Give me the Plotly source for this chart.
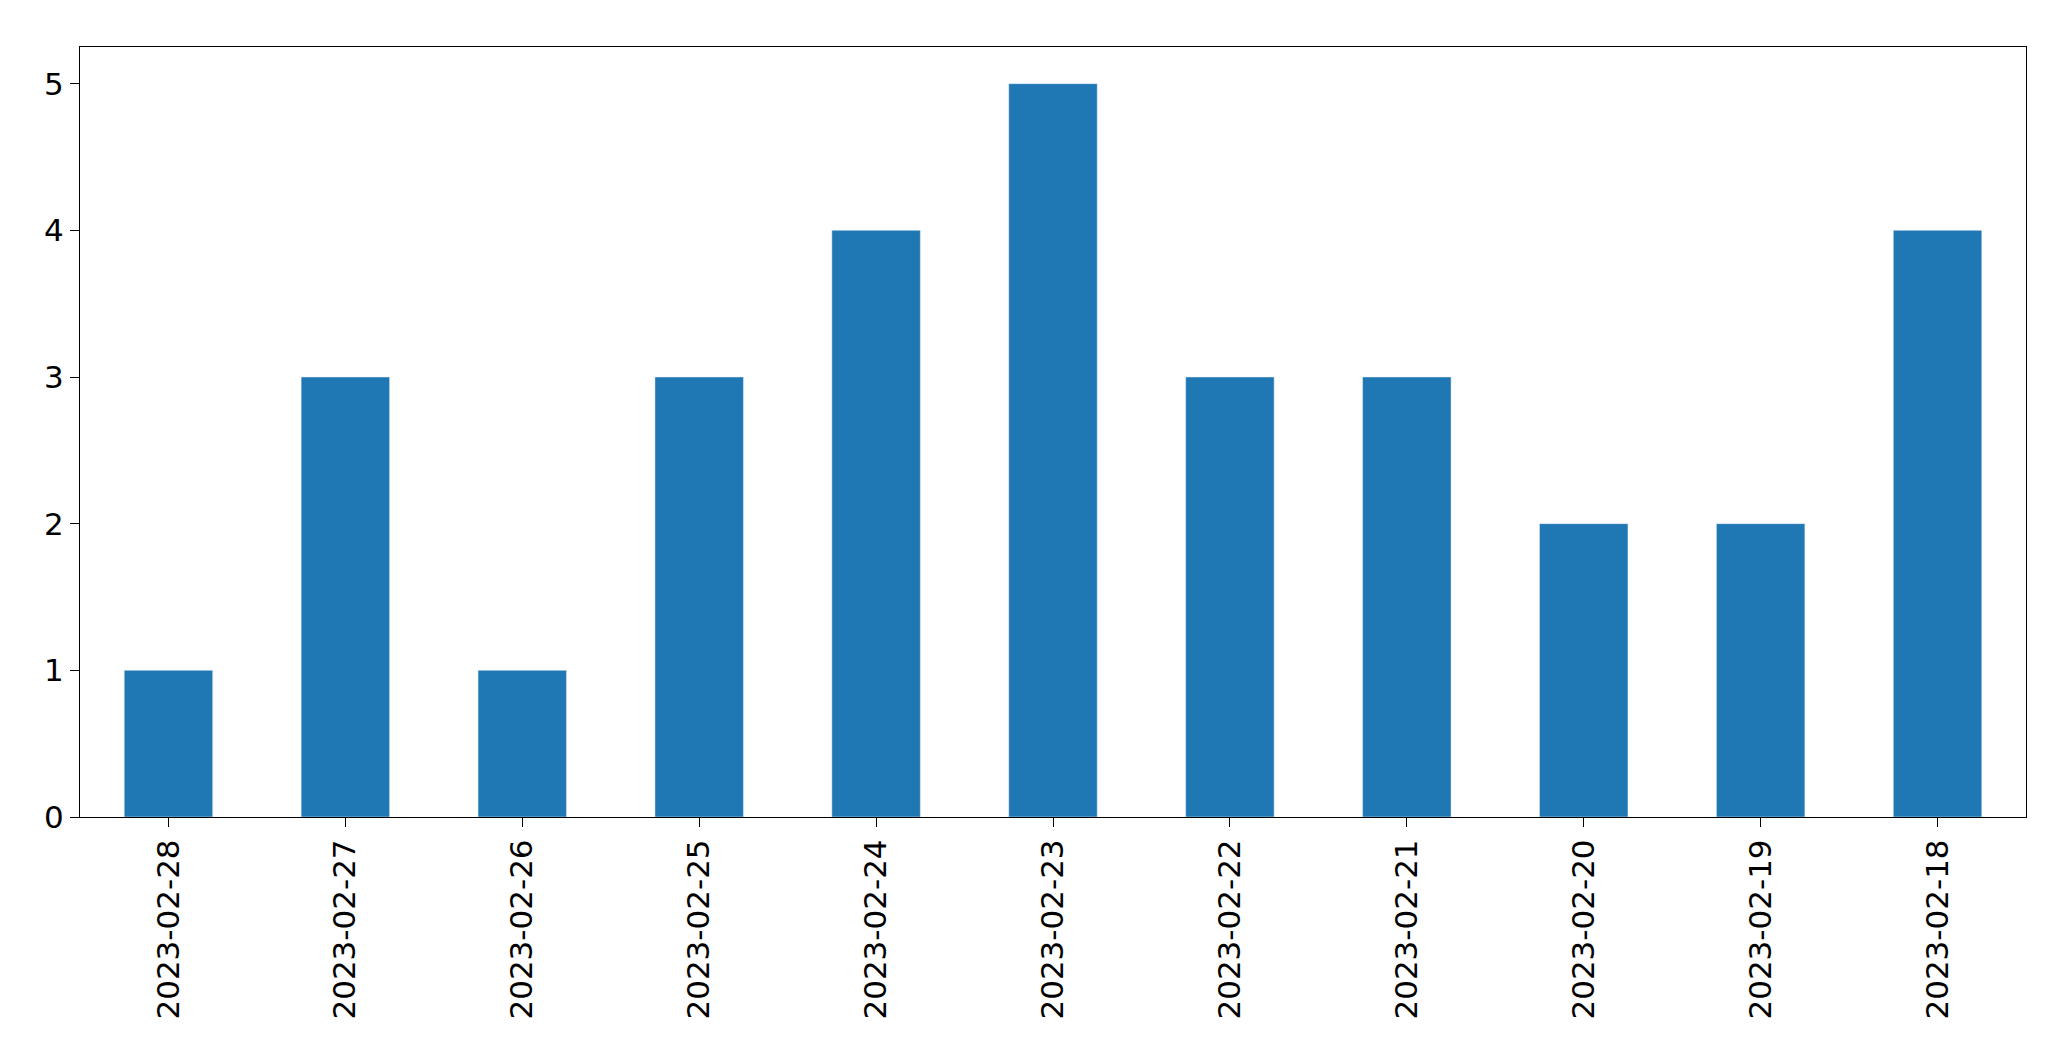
import plotly.graph_objects as go

dates = ["2023-02-28","2023-02-27","2023-02-26","2023-02-25","2023-02-24","2023-02-23",
         "2023-02-22","2023-02-21","2023-02-20","2023-02-19","2023-02-18"]
counts = [1,3,1,3,4,5,3,3,2,2,4]

fig = go.Figure(go.Bar(x=dates, y=counts, marker_color="#1f77b4", width=0.5))
fig.update_layout(
    width=2049, height=1061, plot_bgcolor="white", paper_bgcolor="white",
    margin=dict(l=72, r=31, t=39, b=252), showlegend=False,
    font=dict(family="DejaVu Sans", size=31, color="black"),
)
fig.update_xaxes(type="category", tickangle=-90, showline=True, linecolor="black", mirror=True,
                 ticks="outside", ticklen=9, tickcolor="black", range=[-0.5, 10.5], showgrid=False)
fig.update_yaxes(range=[0, 5.25], tickvals=[0,1,2,3,4,5], showline=True, linecolor="black", mirror=True,
                 ticks="outside", ticklen=9, tickcolor="black", showgrid=False, zeroline=False)
fig.write_html("out.html")
